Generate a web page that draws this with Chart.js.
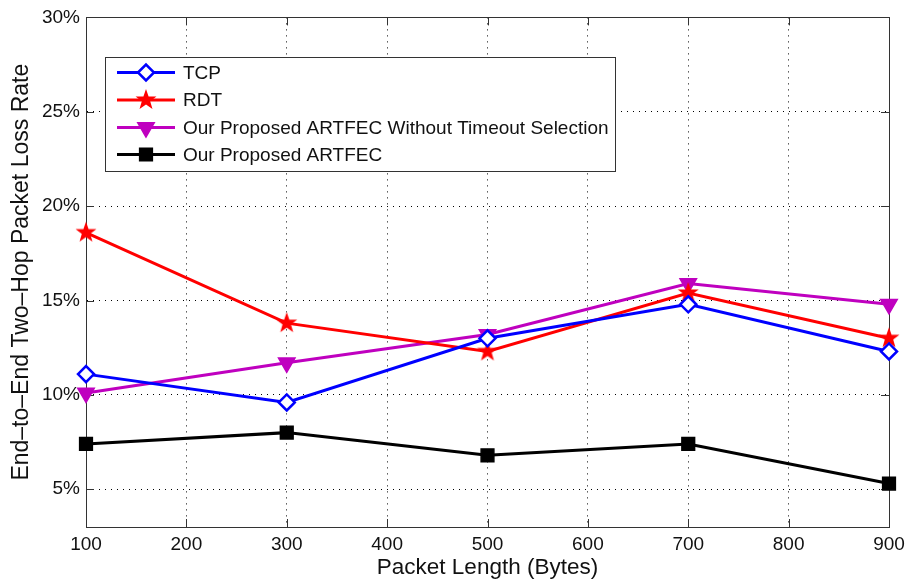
<!DOCTYPE html>
<html>
<head>
<meta charset="utf-8">
<script src="https://cdn.jsdelivr.net/npm/chart.js@4/dist/chart.umd.min.js"></script>
<style>
html,body{margin:0;padding:0;background:#fff;}
#wrap{width:907px;height:584px;position:relative;}
</style>
</head>
<body>
<div id="wrap"><canvas id="c" width="907" height="584"></canvas></div>
<script>
// ---- data ----
const packetLengths = [100, 300, 500, 700, 900];
const tcpLoss = [11.1, 9.6, 13.0, 14.8, 12.3];
const rdtLoss = [18.6, 13.8, 12.3, 15.4, 13.0];
const artfecNoTimeoutLoss = [10.1, 11.7, 13.2, 15.9, 14.8];
const artfecLoss = [7.4, 8.0, 6.8, 7.4, 5.3];
const seriesNames = ['TCP', 'RDT', 'Our Proposed ARTFEC Without Timeout Selection', 'Our Proposed ARTFEC'];
const xTicks = [100, 200, 300, 400, 500, 600, 700, 800, 900];
const yTicks = [5, 10, 15, 20, 25, 30];

const FONT = '"Liberation Sans", Arial, Helvetica, sans-serif';
const AXIS_COLOR = '#333';

function makeStar(r, color) {
  const s = Math.ceil(r * 2 + 4);
  const c = document.createElement('canvas');
  c.width = c.height = s;
  const g = c.getContext('2d');
  g.beginPath();
  for (let i = 0; i < 10; i++) {
    const rad = i % 2 ? r * 0.40 : r;
    const a = -Math.PI / 2 + i * Math.PI / 5;
    g.lineTo(s / 2 + rad * Math.cos(a), s / 2 + rad * Math.sin(a));
  }
  g.closePath();
  g.fillStyle = color;
  g.fill();
  return c;
}
const starImg = makeStar(11, '#ff0000');

function toXY(vals) { return packetLengths.map((x, i) => ({x: x, y: vals[i]})); }

const datasets = [
  {label: seriesNames[0], data: toXY(tcpLoss), borderColor: '#0000ff', backgroundColor: '#0000ff',
   pointStyle: 'rectRot', pointRadius: 8, pointBorderWidth: 2.5, pointBackgroundColor: '#ffffff', pointBorderColor: '#0000ff', pointRotation: 0},
  {label: seriesNames[1], data: toXY(rdtLoss), borderColor: '#ff0000', backgroundColor: '#ff0000',
   pointStyle: starImg, pointRadius: 11, pointBorderWidth: 0, pointRotation: 0},
  {label: seriesNames[2], data: toXY(artfecNoTimeoutLoss), borderColor: '#bf00bf', backgroundColor: '#bf00bf',
   pointStyle: 'triangle', pointRadius: 9.5, pointBorderWidth: 1.5, pointBackgroundColor: '#bf00bf', pointBorderColor: '#bf00bf', pointRotation: 180},
  {label: seriesNames[3], data: toXY(artfecLoss), borderColor: '#000000', backgroundColor: '#000000',
   pointStyle: 'rect', pointRadius: 9, pointBorderWidth: 1.5, pointBackgroundColor: '#000000', pointBorderColor: '#000000', pointRotation: 0}
];
datasets.forEach(d => { d.borderWidth = 3; d.tension = 0; d.fill = false; d.clip = false; d.pointHoverRadius = d.pointRadius; });

// frame, inner tick marks and legend box
const framePlugin = {
  id: 'frame',
  beforeDatasetsDraw(chart) {
    const {ctx, chartArea: a, scales: {x, y}} = chart;
    ctx.save();
    ctx.strokeStyle = AXIS_COLOR;
    ctx.lineWidth = 1;
    ctx.beginPath();
    const L = 8;
    xTicks.forEach(v => {
      const px = Math.round(x.getPixelForValue(v)) + 0.5;
      ctx.moveTo(px, a.bottom); ctx.lineTo(px, a.bottom - L);
      ctx.moveTo(px, a.top); ctx.lineTo(px, a.top + L);
    });
    yTicks.forEach(v => {
      const py = Math.round(y.getPixelForValue(v)) + 0.5;
      ctx.moveTo(a.left, py); ctx.lineTo(a.left + L, py);
      ctx.moveTo(a.right, py); ctx.lineTo(a.right - L, py);
    });
    ctx.stroke();
    ctx.beginPath();
    ctx.rect(Math.round(a.left) + 0.5, Math.round(a.top) + 0.5, Math.round(a.right - a.left), Math.round(a.bottom - a.top));
    ctx.stroke();
    ctx.restore();
  },
  afterDatasetsDraw(chart) {
    const {ctx} = chart;
    const box = {x: 105.5, y: 57.5, w: 510, h: 114};
    ctx.save();
    ctx.fillStyle = '#fff';
    ctx.fillRect(box.x, box.y, box.w, box.h);
    ctx.strokeStyle = AXIS_COLOR;
    ctx.lineWidth = 1;
    ctx.strokeRect(box.x, box.y, box.w, box.h);
    const rows = [72.5, 100, 127.5, 154.5];
    chart.data.datasets.forEach((d, i) => {
      const yy = rows[i];
      ctx.strokeStyle = d.borderColor;
      ctx.lineWidth = d.borderWidth;
      ctx.beginPath(); ctx.moveTo(117, yy); ctx.lineTo(175, yy); ctx.stroke();
      ctx.fillStyle = d.pointBackgroundColor || d.borderColor;
      ctx.strokeStyle = d.pointBorderColor || d.borderColor;
      ctx.lineWidth = d.pointBorderWidth;
      Chart.helpers.drawPoint(ctx, {pointStyle: d.pointStyle, radius: d.pointRadius, rotation: d.pointRotation, borderWidth: d.pointBorderWidth}, 146, yy);
      ctx.fillStyle = '#111';
      ctx.font = '19px ' + FONT;
      ctx.textBaseline = 'middle';
      ctx.textAlign = 'left';
      ctx.fillText(d.label, 183, yy + 1);
    });
    ctx.restore();
  }
};

new Chart(document.getElementById('c'), {
  type: 'line',
  data: {datasets: datasets},
  plugins: [framePlugin],
  options: {
    responsive: false,
    animation: false,
    devicePixelRatio: 1,
    layout: {padding: {top: 14, right: 18, left: 0, bottom: 0}},
    plugins: {legend: {display: false}, tooltip: {enabled: false}},
    scales: {
      x: {
        type: 'linear', min: 100, max: 900,
        afterFit: s => { s.height = 57; s.paddingRight = 0; },
        afterBuildTicks: s => { s.ticks = xTicks.map(v => ({value: v})); },
        ticks: {color: '#111', font: {size: 19, family: FONT}, padding: 6, maxRotation: 0, autoSkip: false},
        grid: {color: '#000', lineWidth: 1, drawTicks: false, tickLength: 0},
        border: {display: true, color: AXIS_COLOR, dash: [1, 5], width: 1},
        title: {display: true, text: 'Packet Length (Bytes)', color: '#111', font: {size: 22.5, family: FONT}, padding: {top: 0, bottom: 3}}
      },
      y: {
        type: 'linear', min: 3, max: 30,
        afterFit: s => { s.width = 86; },
        afterBuildTicks: s => { s.ticks = yTicks.map(v => ({value: v})); },
        ticks: {color: '#111', font: {size: 19, family: FONT}, padding: 6, callback: v => v + '%'},
        grid: {color: '#000', lineWidth: 1, drawTicks: false, tickLength: 0},
        border: {display: true, color: AXIS_COLOR, dash: [1, 5], width: 1},
        title: {display: true, text: 'End\u2013to\u2013End Two\u2013Hop Packet Loss Rate', color: '#111', font: {size: 23, family: FONT}, padding: {top: 8, bottom: 0}}
      }
    }
  }
});
</script>
</body>
</html>
